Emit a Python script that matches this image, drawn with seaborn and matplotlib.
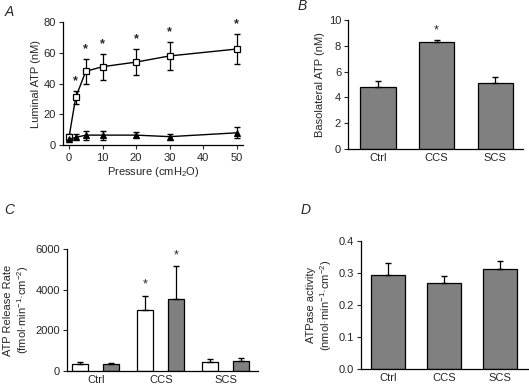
import numpy as np
import pandas as pd
import seaborn as sns
import matplotlib.pyplot as plt

# Panel A - luminal ATP vs pressure
pressure = [0, 2, 5, 10, 20, 30, 50]
open_mean = [5, 31, 48, 51, 54, 58, 62.5]
open_err = [2, 4, 8, 8.5, 8.5, 9, 10]
filled_mean = [3.8, 5, 6.5, 6.5, 6.5, 5.5, 8]
filled_err = [1.5, 2, 3, 3, 2, 2, 3.5]

# Panel B - basolateral ATP
groups = ["Ctrl", "CCS", "SCS"]
baso_mean = [4.85, 8.3, 5.15]
baso_err = [0.4, 0.15, 0.4]

# Panel C - ATP release rate (white / grey)
release_white = [330, 3000, 420]
release_white_err = [130, 700, 180]
release_grey = [330, 3550, 470]
release_grey_err = [70, 1600, 180]

# Panel D - ATPase activity
atpase_mean = [0.293, 0.27, 0.311]
atpase_err = [0.038, 0.02, 0.025]

sns.set_style("white")
plt.rcParams['font.family'] = ['Liberation Sans', 'DejaVu Sans']
plt.rcParams['mathtext.default'] = 'regular'
plt.rcParams['font.size'] = 7.5

GREY = '#808080'

fig = plt.figure(figsize=(5.29, 3.88), dpi=100)
axA = fig.add_axes([0.119, 0.626, 0.340, 0.317])
axB = fig.add_axes([0.658, 0.616, 0.331, 0.332])
axC = fig.add_axes([0.127, 0.044, 0.361, 0.314])
axD = fig.add_axes([0.682, 0.049, 0.316, 0.330])


def style(ax, xticks=True):
    sns.despine(ax=ax)
    for s in ['left', 'bottom']:
        ax.spines[s].set_color('black')
        ax.spines[s].set_linewidth(0.9)
    ax.tick_params(axis='y', direction='out', length=3, width=0.8, labelsize=8, pad=2, left=True)
    ax.tick_params(axis='x', direction='out', length=3 if xticks else 0, width=0.8,
                   labelsize=8, pad=3, bottom=xticks)


# ---- A ----
axA.errorbar(pressure, open_mean, yerr=open_err, fmt='none', ecolor='black',
             elinewidth=0.9, capsize=2.5, zorder=2)
axA.errorbar(pressure, filled_mean, yerr=filled_err, fmt='none', ecolor='black',
             elinewidth=0.9, capsize=2.5, zorder=2)
sns.lineplot(x=pressure, y=open_mean, color='black', linewidth=1, marker='s',
             markersize=5, markerfacecolor='white', markeredgecolor='black',
             markeredgewidth=0.9, ax=axA, zorder=3)
sns.lineplot(x=pressure, y=filled_mean, color='black', linewidth=1, marker='^',
             markersize=5, markerfacecolor='black', markeredgecolor='black',
             ax=axA, zorder=3)
for x, m, e in zip(pressure[1:], open_mean[1:], open_err[1:]):
    axA.text(x, m + e + 2.5, "*", ha='center', va='bottom', fontsize=9, fontweight='bold')
axA.set_xlim(-1.8, 51.8)
axA.set_ylim(0, 80)
axA.set_xticks([0, 10, 20, 30, 40, 50])
axA.set_yticks([0, 20, 40, 60, 80])
axA.set_xlabel("Pressure (cmH$_2$O)", fontsize=8, labelpad=1)
axA.set_ylabel("Luminal ATP (nM)", fontsize=8, labelpad=2)
style(axA)

# ---- B ----
sns.barplot(x=groups, y=baso_mean, color=GREY, edgecolor='black', linewidth=0.9,
            width=0.6, saturation=1, ax=axB)
axB.errorbar(range(3), baso_mean, yerr=[[0] * 3, baso_err], fmt='none', ecolor='black',
             elinewidth=0.9, capsize=2.5)
axB.text(1, baso_mean[1] + baso_err[1] + 0.3, "*", ha='center', va='bottom', fontsize=9)
axB.set_xlim(-0.51, 2.48)
axB.set_ylim(0, 10)
axB.set_yticks([0, 2, 4, 6, 8, 10])
axB.set_ylabel("Basolateral ATP (nM)", fontsize=8, labelpad=3)
style(axB, xticks=False)

# ---- C ----
dfC = pd.DataFrame({"group": groups * 2,
                    "rate": release_white + release_grey,
                    "kind": ["white"] * 3 + ["grey"] * 3})
sns.barplot(data=dfC, x="group", y="rate", hue="kind",
            palette={"white": "white", "grey": GREY}, edgecolor='black', linewidth=0.9,
            width=0.96, gap=0.48, saturation=1, legend=False, ax=axC)
xs = np.arange(3)
axC.errorbar(xs - 0.24, release_white, yerr=[[0] * 3, release_white_err], fmt='none',
             ecolor='black', elinewidth=0.9, capsize=2)
axC.errorbar(xs + 0.24, release_grey, yerr=[[0] * 3, release_grey_err], fmt='none',
             ecolor='black', elinewidth=0.9, capsize=2)
axC.text(1 - 0.24, release_white[1] + release_white_err[1] + 250, "*", ha='center',
         va='bottom', fontsize=9)
axC.text(1 + 0.24, release_grey[1] + release_grey_err[1] + 250, "*", ha='center',
         va='bottom', fontsize=9)
axC.set_xlim(-0.44, 2.5)
axC.set_ylim(0, 6000)
axC.set_yticks([0, 2000, 4000, 6000])
axC.set_xlabel("")
axC.set_ylabel("ATP Release Rate\n(fmol·min$^{-1}$·cm$^{-2}$)", fontsize=8, labelpad=3)
style(axC, xticks=False)

# ---- D ----
sns.barplot(x=groups, y=atpase_mean, color=GREY, edgecolor='black', linewidth=0.9,
            width=0.6, saturation=1, ax=axD)
axD.errorbar(range(3), atpase_mean, yerr=[[0] * 3, atpase_err], fmt='none', ecolor='black',
             elinewidth=0.9, capsize=2.5)
axD.set_xlim(-0.49, 2.5)
axD.set_ylim(0, 0.4)
axD.set_yticks([0.0, 0.1, 0.2, 0.3, 0.4])
axD.set_ylabel("ATPase activity\n(nmol·min$^{-1}$·cm$^{-2}$)", fontsize=8, labelpad=3)
style(axD, xticks=False)

# panel letters
for lbl, x, y in [("A", 0.008, 0.97), ("B", 0.562, 0.985), ("C", 0.008, 0.46), ("D", 0.569, 0.46)]:
    fig.text(x, y, lbl, fontsize=10, fontstyle='italic', va='center')

fig.savefig("out.png", dpi=100, facecolor='white')
